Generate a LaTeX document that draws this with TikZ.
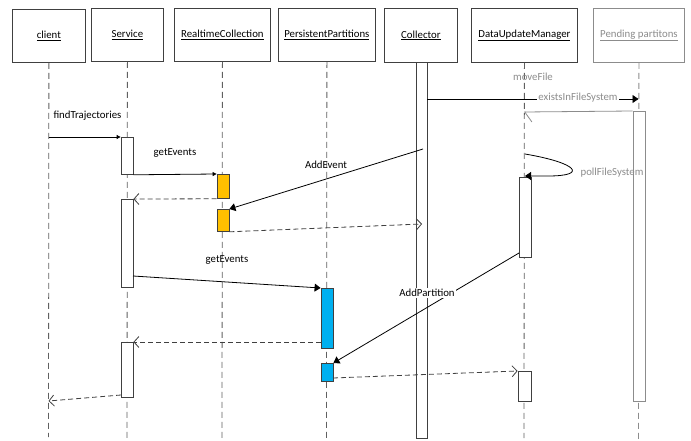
\documentclass[tikz,border=0pt]{standalone}
\usepackage{fontspec}
\setmainfont{Carlito}
\usetikzlibrary{arrows.meta}
\definecolor{orangebar}{HTML}{FFC000}
\definecolor{bluebar}{HTML}{00B0F0}
\definecolor{edgegray}{HTML}{404040}
\definecolor{lifegray}{HTML}{606060}
\definecolor{softgray}{HTML}{8C8C8C}

\begin{document}
\begin{tikzpicture}[x=1pt,y=-1pt,
  font=\fontsize{10.8}{12}\selectfont,
  header/.style={draw=edgegray, fill=white, inner sep=0pt, anchor=north west, line width=0.8pt},
  lifeline/.style={draw=lifegray, dash pattern=on 6pt off 4pt, line width=0.8pt},
  bar/.style={draw=edgegray, fill=white, inner sep=0pt, minimum width=12pt, anchor=north, line width=0.8pt},
  msg/.style={draw=black, line width=0.8pt, -{Triangle[length=6pt,width=8pt]}},
  msgsmall/.style={draw=black, line width=0.8pt, -{Triangle[length=4pt,width=4pt]}},
  reply/.style={draw=edgegray, line width=0.8pt, dash pattern=on 5pt off 3pt, -{Straight Barb[length=5pt,width=11pt]}},
  label/.style={inner sep=1pt},
  glabel/.style={inner sep=1pt, text=softgray},
]
\useasboundingbox (0,0) rectangle (691,441);
\fill[white] (0,0) rectangle (691,441);

% participant boxes
\node[header, minimum width=73pt, minimum height=53pt] (hclient) at (12,9) {\underline{client}};
\node[header, minimum width=72pt, minimum height=53pt] (hservice) at (91,8) {\underline{Service}};
\node[header, minimum width=96pt, minimum height=53pt] (hrealtime) at (174,8) {\underline{RealtimeCollection}};
\node[header, minimum width=97pt, minimum height=53pt] (hpersist) at (278,8) {\underline{PersistentPartitions}};
\node[header, minimum width=73pt, minimum height=54pt] (hcollector) at (384,8) {\underline{Collector}};
\node[header, minimum width=106pt, minimum height=54pt] (hdum) at (471,8) {\underline{DataUpdateManager}};
\node[header, draw=softgray, text=softgray, minimum width=91pt, minimum height=54pt] (hpending) at (593,8) {\underline{Pending partitons}};

% lifeline ends
\coordinate (eclient) at (48.5,437);
\coordinate (eservice) at (127,440);
\coordinate (erealtime) at (222,440);
\coordinate (epersist) at (326.5,440);
\coordinate (edum) at (524,438);
\coordinate (epending) at (638.5,440);

\draw[lifeline] (hclient.south) -- (eclient);
\draw[lifeline] (hservice.south) -- (eservice);
\draw[lifeline] (hrealtime.south) -- (erealtime);
\draw[lifeline] (hpersist.south) -- (epersist);
\draw[lifeline] (hdum.south) -- (edum);
\draw[lifeline, draw=softgray] (hpending.south) -- (epending);

% activation bars
\node[bar, minimum height=37pt] (sv1) at (127,137) {};
\node[bar, minimum height=88pt] (sv2) at (127,199) {};
\node[bar, minimum height=55pt] (sv3) at (127,342) {};
\node[bar, fill=orangebar, minimum height=24pt] (rt1) at (223,174) {};
\node[bar, fill=orangebar, minimum height=22pt] (rt2) at (223,209) {};
\node[bar, fill=bluebar, minimum height=60pt] (pp1) at (327,288) {};
\node[bar, fill=bluebar, minimum height=18pt] (pp2) at (327,363) {};
\node[bar, minimum width=11pt, minimum height=376pt] (co) at (421.5,62) {};
\node[bar, minimum height=80pt] (dm1) at (525,177) {};
\node[bar, minimum width=13pt, minimum height=30pt] (dm2) at (524.5,371) {};
\node[bar, draw=softgray, minimum height=290pt] (pe) at (639,111) {};

% message end points
\coordinate (cfind) at (48.5,137);
\coordinate (caddev) at (423,149);
\coordinate (cevret) at (422,224);
\coordinate (cexists) at (427,99);
\coordinate (cexiststo) at (638.5,99);
\coordinate (cexret) at (524,112);
\coordinate (cpoll) at (525,154);
\coordinate (cpollto) at (525,176);
\coordinate (cget) at (133,276);
\coordinate (caddpart) at (519,253);
\coordinate (cppret) at (333,378);
\coordinate (csvret) at (121,395);
\coordinate (cclret) at (48.5,401);

% messages
\draw[msgsmall] (cfind) -- (sv1.north west);
\draw[msgsmall] (sv1.south east) -- (rt1.north west);
\draw[reply] (rt1.south west) -- (sv2.north east);
\draw[msg] (caddev) -- (rt2.north east);
\draw[reply] (rt2.south east) -- (cevret);
\draw[msg] (cexists) -- (cexiststo);
\draw[draw=softgray, line width=0.8pt, -{Straight Barb[left,length=7pt,width=20pt]}] (pe.north west) -- (cexret);
\draw[msg] (cpoll) .. controls (578,163) and (588,176) .. (548,176) -- (cpollto);
\draw[msg] (cget) -- (pp1.north west);
\draw[reply] (pp1.west |- sv3.north) -- (sv3.north east);
\draw[msg] (caddpart) -- (pp2.north east);
\draw[reply] (cppret) -- (dm2.north west);
\draw[reply] (csvret) -- (cclret);

% message labels
\node[label] (lfind) at (87.5,116) {findTrajectories};
\node[label] (lget1) at (175,153) {getEvents};
\node[label] (laddev) at (326,165) {AddEvent};
\node[label] (lget2) at (227,260) {getEvents};
\node[label, fill=white] (laddpart) at (427,293) {AddPartition};
\node[glabel] (lmove) at (533,77) {moveFile};
\node[glabel, fill=white] (lexists) at (578,98) {existsInFileSystem};
\node[glabel] (lpoll) at (612,173) {pollFileSystem};
\end{tikzpicture}
\end{document}
